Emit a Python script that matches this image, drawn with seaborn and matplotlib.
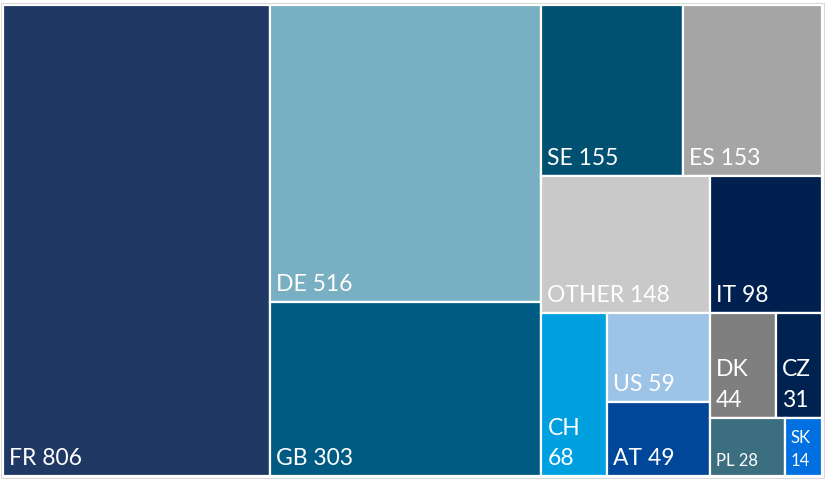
import matplotlib
matplotlib.use("Agg")
import matplotlib.pyplot as plt
from matplotlib.patches import Rectangle
import seaborn as sns

# data ~~~~~~~~~~~~~~~~~~~~~~~~~~~~~~~~~~~~~~~~~~~~~~~~~~~~~~~~~~~~~~~~~
countries = ['FR', 'DE', 'GB', 'SE', 'ES', 'OTHER', 'IT',
             'CH', 'US', 'AT', 'DK', 'CZ', 'PL', 'SK']
counts = [806, 516, 303, 155, 153, 148, 98, 68, 59, 49, 44, 31, 28, 14]
colors = ['#203864', '#78AFC2', '#005B82', '#005072', '#A5A5A5', '#C9C9C9',
          '#002050', '#00A0E0', '#9DC3E6', '#00479A', '#7F7F7F', '#002250',
          '#3B6E7F', '#0070E0']
# how many items go in each strip of the treemap
strips = [1, 2, 2, 2, 1, 2, 2, 2]

sns.set_theme(style="white")
plt.rcParams['font.family'] = ['Lato', 'DejaVu Sans']

W, H = 819, 471


def treemap(values, strips, x, y, w, h):
    rects = []
    i = 0
    for n in strips:
        group = values[i:i + n]
        rest = sum(values[i:])
        last = (i + n) == len(values)
        frac = sum(group) / rest
        if last:
            # lay the final strip along the long side
            horiz = w >= h
            sw, sh = w, h
        elif w >= h:
            horiz = False
            sw, sh = w * frac, h
        else:
            horiz = True
            sw, sh = w, h * frac
        gx, gy = x, y
        for v in group:
            f = v / sum(group)
            if horiz:
                rects.append((gx, gy, sw * f, sh))
                gx += sw * f
            else:
                rects.append((gx, gy, sw, sh * f))
                gy += sh * f
        if not last:
            if w >= h:
                x += sw
                w -= sw
            else:
                y += sh
                h -= sh
        i += n
    return rects


fig = plt.figure(figsize=(8.25, 4.82), dpi=100)
ax = fig.add_axes([3 / 825, 6 / 482, W / 825, H / 482])
ax.set_xlim(0, W)
ax.set_ylim(H, 0)
ax.axis('off')

rects = treemap(counts, strips, 0, 0, W, H)
renderer = fig.canvas.get_renderer()
pad = 6

for (x, y, w, h), name, val, col in zip(rects, countries, counts, colors):
    ax.add_patch(Rectangle((x, y), w, h, facecolor=col, edgecolor='white',
                           linewidth=1.6))
    size = 16.5 if h > 70 else 12
    label = f'{name} {val}'
    t = ax.text(x + pad, y + h - 7, label, color='white', fontsize=size,
                ha='left', va='bottom', linespacing=1.55)
    tw = t.get_window_extent(renderer).width
    if tw + 2 * pad > w:
        t.set_text(label.replace(' ', '\n'))

# faint outer frame
ax.add_patch(Rectangle((-2, -2), W + 4, H + 4, facecolor='none',
                       edgecolor='#D9D9D9', linewidth=0.8, clip_on=False))

fig.savefig('out.png', dpi=100)
